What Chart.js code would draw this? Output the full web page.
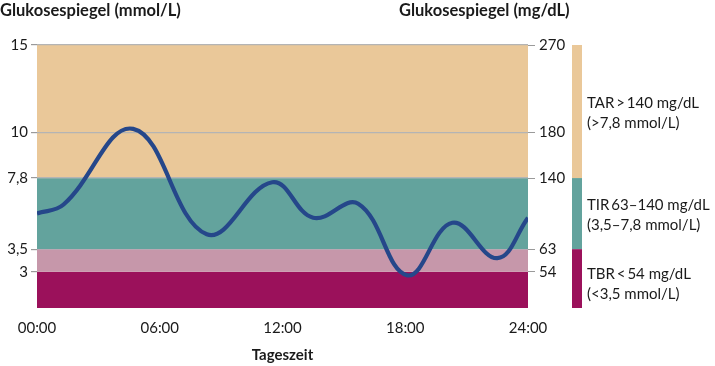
<!DOCTYPE html>
<html>
<head>
<meta charset="utf-8">
<script src="https://cdn.jsdelivr.net/npm/chart.js@4.4.1/dist/chart.umd.min.js"></script>
<style>
  html, body { margin: 0; padding: 0; background: #fff; }
  #wrap { width: 715px; height: 366px; }
</style>
</head>
<body>
<div id="wrap"><canvas id="chart" width="715" height="366"></canvas></div>
<script>
// ---- data ----
const hours   = [0, 1.3, 4.7, 8.3, 11.5, 13.5, 15.7, 18.1, 20.3, 22.5, 24];
const glucose = [5.66, 6.2, 10.2, 4.4, 7.55, 5.4, 6.25, 2.8, 5.1, 3.3, 5.4];

const timeTicks  = [0, 6, 12, 18, 24];
const timeLabels = ['00:00', '06:00', '12:00', '18:00', '24:00'];

const mmolTicks  = [3, 3.5, 7.8, 10, 15];
const mmolLabels = ['3', '3,5', '7,8', '10', '15'];
const mgLabels   = ['54', '63', '140', '180', '270'];

// background zones (mmol/L)
const zoneFrom   = [1, 3, 3.5, 7.8];
const zoneTo     = [3, 3.5, 7.8, 15];
const zoneColors = ['#9b115b', '#c697aa', '#63a39d', '#eac899'];

// legend strip on the right
const legendFrom   = [7.8, 3.5, 1];
const legendTo     = [15, 7.8, 3.5];
const legendColors = ['#eac899', '#63a39d', '#9b115b'];
const legendText   = [
  ['TAR\u2009>\u2009140 mg/dL', '(>7,8 mmol/L)'],
  ['TIR\u200963\u2013140 mg/dL', '(3,5\u20137,8 mmol/L)'],
  ['TBR\u2009<\u200954 mg/dL', '(<3,5 mmol/L)']
];

const FONT = 'Lato, "Noto Sans", sans-serif';
const TEXT = '#1a1a1a';

// the y axis of the figure is schematic: piecewise linear between these values
const KNOT_VAL = [1, 3, 3.5, 7.8, 10, 15];
const KNOT_DEC = [0, 0.138, 0.2236, 0.494, 0.668, 1];

class PiecewiseScale extends Chart.LinearScale {
  getPixelForValue(v) {
    if (v === null || isNaN(v)) return NaN;
    let i = 0;
    while (i < KNOT_VAL.length - 2 && v > KNOT_VAL[i + 1]) i++;
    const t = (v - KNOT_VAL[i]) / (KNOT_VAL[i + 1] - KNOT_VAL[i]);
    return this.getPixelForDecimal(KNOT_DEC[i] + t * (KNOT_DEC[i + 1] - KNOT_DEC[i]));
  }
  getValueForPixel(p) {
    const d = this.getDecimalForPixel(p);
    let i = 0;
    while (i < KNOT_DEC.length - 2 && d > KNOT_DEC[i + 1]) i++;
    const t = (d - KNOT_DEC[i]) / (KNOT_DEC[i + 1] - KNOT_DEC[i]);
    return KNOT_VAL[i] + t * (KNOT_VAL[i + 1] - KNOT_VAL[i]);
  }
}
PiecewiseScale.id = 'piecewise';
PiecewiseScale.defaults = {};
Chart.register(PiecewiseScale);

const zones = {
  id: 'zones',
  beforeDraw(chart) {
    const { ctx, chartArea: a, scales: { y } } = chart;
    ctx.save();
    zoneFrom.forEach((f, i) => {
      const top = y.getPixelForValue(zoneTo[i]);
      const bot = y.getPixelForValue(f);
      ctx.fillStyle = zoneColors[i];
      ctx.fillRect(a.left, top, a.right - a.left, bot - top);
    });
    ctx.restore();
  }
};

const extras = {
  id: 'extras',
  afterDraw(chart) {
    const { ctx, scales: { y } } = chart;
    ctx.save();
    // axis titles on top
    ctx.fillStyle = TEXT;
    ctx.font = 'bold 16.5px ' + FONT;
    ctx.textBaseline = 'alphabetic';
    ctx.textAlign = 'left';
    ctx.fillText('Glukosespiegel (mmol/L)', 0, 16);
    ctx.fillText('Glukosespiegel (mg/dL)', 399, 16);

    // legend strip + text
    ctx.font = '15px ' + FONT;
    ctx.textBaseline = 'middle';
    legendFrom.forEach((f, i) => {
      const top = y.getPixelForValue(legendTo[i]);
      const bot = y.getPixelForValue(f);
      ctx.fillStyle = legendColors[i];
      ctx.fillRect(572, top, 10, bot - top);
      // last block sits a little lower in the original
      const mid = (top + bot) / 2 + (i === 2 ? 5.5 : 1.5);
      ctx.fillStyle = TEXT;
      ctx.fillText(legendText[i][0], 587, mid - 10);
      ctx.fillText(legendText[i][1], 587, mid + 10);
    });
    ctx.restore();
  }
};

new Chart(document.getElementById('chart'), {
  type: 'line',
  data: {
    datasets: [{
      data: hours.map((h, i) => ({ x: h, y: glucose[i] })),
      borderColor: '#25478a',
      borderWidth: 4.2,
      pointRadius: 0,
      tension: 0.4,
      yAxisID: 'y'
    }]
  },
  options: {
    responsive: false,
    animation: false,
    layout: { padding: { top: 45, left: 0, right: 0, bottom: 0 } },
    plugins: { legend: { display: false }, tooltip: { enabled: false } },
    scales: {
      x: {
        type: 'linear', min: 0, max: 24,
        afterBuildTicks: s => { s.ticks = timeTicks.map(v => ({ value: v })); },
        ticks: { callback: (v, i) => timeLabels[i], padding: 3, color: TEXT, font: { family: FONT, size: 15 }, maxRotation: 0 },
        grid: { display: false },
        border: { display: false },
        title: { display: true, text: 'Tageszeit', color: TEXT, font: { family: FONT, size: 15, weight: 'bold' }, padding: { top: 0, bottom: 2 } },
        afterFit: s => { s.height = 58; }
      },
      y: {
        type: 'piecewise', position: 'left', min: 1, max: 15,
        afterBuildTicks: s => { s.ticks = mmolTicks.map(v => ({ value: v })); },
        ticks: { callback: (v, i) => mmolLabels[i], padding: 3, color: TEXT, font: { family: FONT, size: 15 } },
        grid: {
          color: c => (c.tick && c.tick.value >= 7.8) ? '#b4b4b4' : 'rgba(0,0,0,0)',
          tickColor: '#9a9a9a', tickLength: 6, lineWidth: 1.2
        },
        border: { display: false },
        afterFit: s => { s.width = 37; }
      },
      y2: {
        type: 'piecewise', position: 'right', min: 1, max: 15,
        afterBuildTicks: s => { s.ticks = mmolTicks.map(v => ({ value: v })); },
        ticks: { callback: (v, i) => mgLabels[i], padding: 4, color: TEXT, font: { family: FONT, size: 15 } },
        grid: { drawOnChartArea: false, tickColor: '#9a9a9a', tickLength: 7 },
        border: { display: false },
        afterFit: s => { s.width = 187; }
      }
    }
  },
  plugins: [zones, extras]
});
</script>
</body>
</html>
